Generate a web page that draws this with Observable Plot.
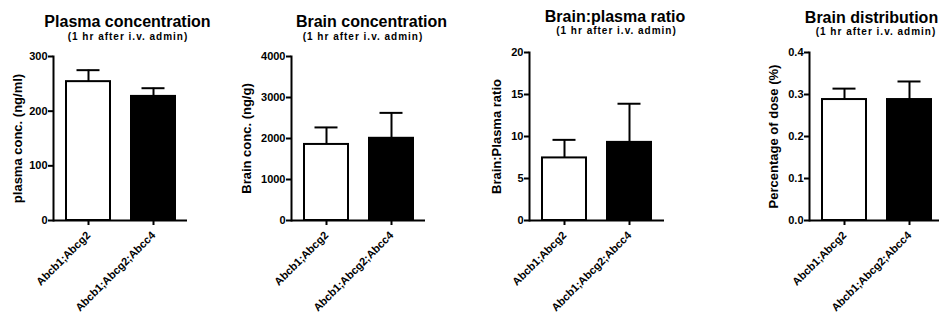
<!DOCTYPE html>
<html><head><meta charset="utf-8">
<script src="https://cdn.jsdelivr.net/npm/d3@7"></script>
<script src="https://cdn.jsdelivr.net/npm/@observablehq/plot@0.6"></script>
<style>
html,body{margin:0;padding:0;background:#fff;}
#wrap{position:relative;width:939px;height:325px;overflow:hidden;font-family:"Liberation Sans",Arial,sans-serif;}
.panel{position:absolute;top:0;}
#titles{position:absolute;left:0;top:0;}
</style></head><body><div id="wrap"></div>
<script>
const genotypes = ["Abcb1;Abcg2", "Abcb1;Abcg2;Abcc4"];
const plasmaMean = [254, 227];
const plasmaSem = [21, 15];
const brainMean = [1855, 2005];
const brainSem = [415, 620];
const ratioMean = [7.45, 9.3];
const ratioSem = [2.15, 4.6];
const distMean = [0.288, 0.288];
const distSem = [0.026, 0.043];
const panelTitles = ["Plasma concentration", "Brain concentration", "Brain:plasma ratio", "Brain distribution"];
const subtitle = "(1 hr after i.v. admin)";
const yLabels = ["plasma conc. (ng/ml)", "Brain conc. (ng/g)", "Brain:Plasma ratio", "Percentage of dose (%)"];
const yTicks = [[0, 100, 200, 300], [0, 1000, 2000, 3000, 4000], [0, 5, 10, 15, 20], [0, 0.1, 0.2, 0.3, 0.4]];
const yMax = [300, 4000, 20, 0.4];

const FONT = '"Liberation Sans", Arial, sans-serif';
const wrap = document.getElementById("wrap");

const layout = [
  {left: 0,   width: 230, marginLeft: 53,  marginRight: 43, marginTop: 56, labelOffset: 41, fmt: d => String(d)},
  {left: 230, width: 230, marginLeft: 61,  marginRight: 35, marginTop: 56, labelOffset: 50, fmt: d => String(d)},
  {left: 460, width: 240, marginLeft: 69,  marginRight: 36, marginTop: 52, labelOffset: 38, fmt: d => String(d)},
  {left: 700, width: 250, marginLeft: 109, marginRight: 6,  marginTop: 52, labelOffset: 41, fmt: d3.format(".1f")}
];
const means = [plasmaMean, brainMean, ratioMean, distMean];
const sems = [plasmaSem, brainSem, ratioSem, distSem];

layout.forEach((L, k) => {
  const data = genotypes.map((g, i) => ({g, mean: means[k][i], top: means[k][i] + sems[k][i]}));
  const svg = Plot.plot({
    width: L.width, height: 325,
    marginLeft: L.marginLeft, marginRight: L.marginRight, marginTop: L.marginTop, marginBottom: 105,
    style: {fontFamily: FONT, fontWeight: "bold", fontSize: "11px", color: "black", background: "transparent", overflow: "visible"},
    x: {domain: genotypes, paddingInner: 0.33, paddingOuter: 0.19},
    y: {domain: [0, yMax[k]]},
    color: {domain: genotypes, range: ["white", "black"]},
    marks: [
      Plot.barY(data, {x: "g", y: "mean", fill: "g", stroke: "black", strokeWidth: 2}),
      Plot.ruleX(data, {x: "g", y1: "mean", y2: "top", stroke: "black", strokeWidth: 2}),
      Plot.tickY(data, {x: "g", y: "top", stroke: "black", strokeWidth: 2, insetLeft: 10.5, insetRight: 10.5}),
      Plot.ruleY([0], {stroke: "black", strokeWidth: 2}),
      Plot.frame({anchor: "left", stroke: "black", strokeWidth: 2}),
      Plot.axisY({ticks: yTicks[k], tickFormat: L.fmt, tickSize: 5, tickPadding: 1, strokeWidth: 2,
                  fontSize: 11, fill: "black", stroke: "black",
                  label: yLabels[k], labelAnchor: "center", labelOffset: L.labelOffset, labelArrow: "none"}),
      Plot.axisX({tickSize: 5, tickPadding: 8, tickRotate: -45, label: null, strokeWidth: 2,
                  fontSize: 11, fill: "black", stroke: "black"})
    ]
  });
  svg.classList.add("panel");
  svg.style.left = L.left + "px";
  d3.select(svg).selectAll("[aria-label='y-axis label'] text").style("font-size", "13px");
  wrap.appendChild(svg);
});

const titlePos = [
  {tx: 127.5, ty: 27, sx: 128, sy: 40},
  {tx: 371.5, ty: 27, sx: 363, sy: 40},
  {tx: 615, ty: 22, sx: 616.5, sy: 34},
  {tx: 871.5, ty: 23, sx: 876, sy: 35}
];
const tsvg = d3.create("svg").attr("id", "titles").attr("width", 939).attr("height", 50)
  .style("font-family", FONT).style("font-weight", "bold");
titlePos.forEach((p, k) => {
  tsvg.append("text").attr("x", p.tx).attr("y", p.ty).attr("text-anchor", "middle")
    .attr("font-size", 16).text(panelTitles[k]);
  tsvg.append("text").attr("x", p.sx).attr("y", p.sy).attr("text-anchor", "middle")
    .attr("font-size", 10).attr("letter-spacing", 1).text(subtitle);
});
wrap.appendChild(tsvg.node());
</script></body></html>
